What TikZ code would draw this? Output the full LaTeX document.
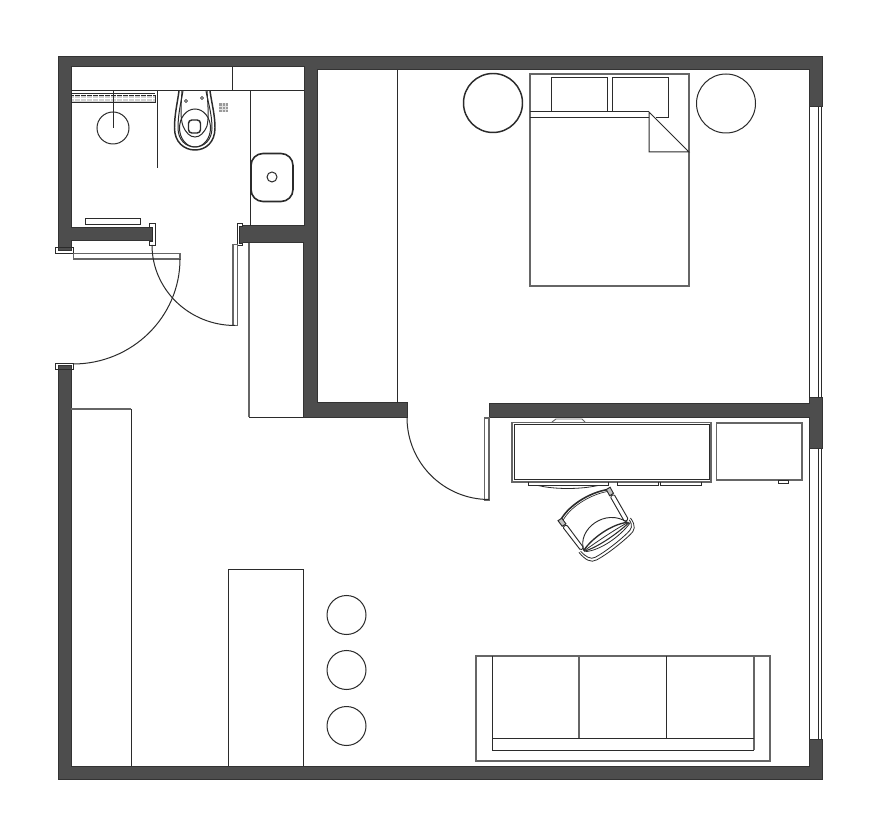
\documentclass[tikz,border=0pt]{standalone}
\tikzset{
  wall/.style={fill=wallgrey,draw=walledge,line width=0.75pt,line join=miter},
  ln/.style={draw=linedark,line width=0.75pt},
  gln/.style={draw=linegrey,line width=0.9pt},
  thk/.style={draw=linedark,line width=1.1pt},
  fr/.style={draw=linedark,line width=0.6pt,fill=white},
}
\definecolor{wallgrey}{HTML}{4D4D4D}
\definecolor{walledge}{HTML}{333333}
\definecolor{linedark}{HTML}{2B2B2B}
\definecolor{linegrey}{HTML}{666666}
\definecolor{hatchgrey}{HTML}{9A9A9A}
\begin{document}
\begin{tikzpicture}[x=0.75pt,y=-0.75pt]
\useasboundingbox (0,0) rectangle (885,837);
\fill[white] (0,0) rectangle (885,837);
% walls
\path[wall] (58,250.5)--(58,57)--(822,57)--(822,107)--(809,107)--(809,70)--(317,70)--(317,403)--(407,403)--(407,417.5)--(303,417.5)--(303,243)--(239,243)--(239,226)--(304,226)--(304,67)--(71,67)--(71,228)--(152,228)--(152,241)--(71,241)--(71,250.5)--cycle;
\path[wall] (489,403.5)--(809,403.5)--(809,398)--(822,398)--(822,449)--(809,449)--(809,418)--(489,418)--cycle;
\path[wall] (58,366)--(71,366)--(71,766)--(809,766)--(809,739)--(822,739)--(822,779)--(58,779)--cycle;
% windows
\draw[ln] (809,107)--(809,398) (818,107)--(818,398) (821.5,107)--(821.5,398);
\draw[ln] (809,449)--(809,739) (818,449)--(818,739) (821.5,449)--(821.5,739);
% door frames
\draw[ln,line width=0.6pt] (55.5,253.5)--(55.5,247.5)--(73.5,247.5)--(73.5,253.5)--cycle;
\draw[ln,line width=0.6pt] (55.5,369)--(55.5,363.5)--(73.5,363.5)--(73.5,369)--cycle;
\draw[fr] (149.5,223.5)--(155,223.5)--(155,245)--(149.5,245)--(149.5,241.5)--(152,241.5)--(152,227)--(149.5,227)--cycle;
\draw[fr] (242.5,223.5)--(237.5,223.5)--(237.5,245)--(242.5,245)--(242.5,243)--(239.5,243)--(239.5,226)--(242.5,226)--cycle;
% entrance door
\draw[gln] (73.5,253.5)--(180,253.5)--(180,259)--(73.5,259)--cycle;
\draw[ln] (180,259) arc[start angle=0,end angle=90,x radius=107,y radius=105];
% bathroom door
\draw[gln] (233,244.5)--(237.5,244.5)--(237.5,325.5)--(233,325.5)--cycle;
\draw[ln] (152,245) arc[start angle=180,end angle=90,x radius=83,y radius=80.5];
% bathroom fixtures
\draw[ln] (71,91)--(304,91) (232,67)--(232,91) (250,91)--(250,226) (157,91)--(157,168);
\draw[ln] (71,94)--(155,94);
\draw[draw=linedark,line width=0.6pt,fill=hatchgrey!45] (71.5,95)rectangle(155,102);
\foreach \i in {0,...,13} \draw[white,line width=0.4pt] (74+\i*6,95.5)--(74+\i*6,101.5);
\draw[white,line width=0.4pt] (72,98.5)--(155,98.5);
\draw[ln] (113,91)--(113,128);
\draw[ln] (113,128) circle[radius=16];
\draw[ln] (85.5,218.5) rectangle (140,225);
% toilet
\draw[line width=1.1pt,draw=linedark] (179,91) .. controls (177,105) and (174.5,115) .. (174.5,128) .. controls (174.5,142) and (184,150) .. (195,150) .. controls (206,150) and (215,142) .. (215,128) .. controls (215,115) and (212,105) .. (210,91);
\draw[ln] (183,91) .. controls (181,102) and (178,114) .. (178,128) .. controls (178,140) and (186,147) .. (195,147) .. controls (204,147) and (212,140) .. (212,128) .. controls (212,114) and (208,102) .. (206,91);
\draw[ln] (195,128) ellipse[x radius=15.5,y radius=19];
\draw[ln] (182,91) .. controls (181,105) and (180,118) .. (183,126) .. controls (186,133) and (190,137) .. (195,137) .. controls (200,137) and (204,133) .. (207,126) .. controls (209,118) and (208,105) .. (207,91);
\draw[thk,rounded corners=2.5pt] (188.5,120) rectangle (200.5,133);
\draw[line width=0.5pt] (186,99.5)--(187.5,101)--(186,102.5)--(184.5,101)--cycle;
\draw[line width=0.5pt] (202,96.5)--(203.5,98)--(202,99.5)--(200.5,98)--cycle;
\fill[hatchgrey] (219,103) rectangle (228,112);
\foreach \i in {1,2} {\draw[white!70!hatchgrey,line width=0.4pt] (219+\i*3,103)--(219+\i*3,112); \draw[white!70!hatchgrey,line width=0.4pt] (219,103+\i*3)--(228,103+\i*3);}
% sink
\draw[draw=linedark,line width=1.2pt,rounded corners=9pt] (251,153.5) rectangle (293,201.5);
\draw[ln] (272,177) circle[radius=5];
% closet
\draw[gln] (249,243)--(249,417.5);
\draw[ln] (249,417.5)--(303,417.5);
% wardrobe
\draw[ln] (397,70)--(397,403);
% bedroom door
\draw[gln] (484.5,418)--(489,418)--(489,500)--(484.5,500)--cycle;
\draw[ln] (407,417.5) arc[start angle=180,end angle=90,x radius=82,y radius=82];
% bed
\draw[gln] (530,74) rectangle (689,286);
\draw[ln] (551,112)--(551,77.5)--(607,77.5)--(607,112);
\draw[ln] (612,112)--(612,77.5)--(668,77.5)--(668,117.5)--(656,117.5);
\draw[ln] (530,112)--(649,112) (530,118)--(649,118);
\draw[ln] (649,112)--(689,152)--(649,152)--cycle;
\draw[thk] (493,103) circle[radius=29.5];
\draw[ln] (726,103.5) circle[radius=29.5];
% desk
\draw[gln,line width=1.1pt] (512,422.5) rectangle (711,482);
\draw[ln] (514.5,424.5) rectangle (709,480);
\draw[gln] (716.5,423) rectangle (802,480);
\draw[ln,line width=0.6pt] (778,480.5) rectangle (788,483.5);
\draw[ln,line width=0.6pt] (528,482)--(528,485.5)--(608,485.5)--(608,482);
\draw[ln,line width=0.6pt] (617,482)--(617,485.5)--(658,485.5)--(658,482);
\draw[ln,line width=0.6pt] (660,482)--(660,485.5)--(701,485.5)--(701,482);
\draw[ln,line width=0.6pt] (538,485.5) .. controls (555,489.5) and (580,489.5) .. (598,485.5);
\draw[gln,line width=0.7pt] (552,422)--(556,419)--(582,419)--(585,422);
% chair
\begin{scope}[shift={(585,504.5)},x={(0.63pt,0.405pt)},y={(0.405pt,-0.63pt)}]
\draw[thk,line width=1.2pt] (-29,0) .. controls (-15,-8) and (10,-8) .. (28,0);
\draw[ln,line width=0.5pt] (-28,2) .. controls (-15,-6) and (10,-6) .. (28,2);
\draw[ln,line width=0.7pt,fill=linegrey!40] (-31.5,-1)--(-27,-1)--(-26.5,6)--(-31,6)--cycle;
\draw[ln,line width=0.7pt,fill=linegrey!40] (26,-1)--(30.5,-1)--(30,6)--(25.5,6)--cycle;
\draw[ln,line width=0.7pt,rounded corners=1pt] (-31,7)--(-26.5,7)--(-24.5,36)--(-28.5,36)--cycle;
\draw[ln,line width=0.7pt,rounded corners=1pt] (25.5,7)--(30,7)--(28.5,36)--(24,36)--cycle;
\draw[ln,line width=0.7pt] (-26,38) .. controls (-20,16) and (16,14) .. (26,38);
\draw[thk,line width=1pt] (-26,38) .. controls (-12,32) and (12,31) .. (26,38);
\draw[ln,line width=0.6pt] (-26,38.5) .. controls (-12,38) and (12,37) .. (27,38.5);
\draw[ln,line width=0.8pt] (-26,39) .. controls (-12,43) and (12,42) .. (27.5,39);
\draw[ln,line width=0.6pt] (-25,40) .. controls (-12,47) and (12,46) .. (28,40);
\draw[ln,line width=0.6pt] (-29,37) .. controls (-28,44) and (-25,50) .. (-20,50) .. controls (-8,51) and (10,49) .. (20,47) .. controls (26,46) and (29,44) .. (29,37);
\draw[ln,line width=0.6pt] (-31,37) .. controls (-30,46) and (-27,53) .. (-20,53) .. controls (-8,54) and (10,52) .. (21,50) .. controls (28,49) and (31.5,46) .. (31,36);
\end{scope}
% kitchen
\draw[gln] (71,409)--(131,409);
\draw[ln] (131,409)--(131,766);
\draw[ln] (228,766)--(228,569.5)--(303,569.5)--(303,766);
\draw[ln] (346.5,615) circle[radius=19.5];
\draw[ln] (346.5,670) circle[radius=19.5];
\draw[ln] (346.5,726) circle[radius=19.5];
% sofa
\draw[gln,line width=1.1pt] (476,656) rectangle (770,761);
\draw[ln] (492,656)--(492,750)--(754,750);
\draw[gln,line width=1.1pt] (754,656)--(754,750);
\draw[ln] (492,738)--(754,738) (666,656)--(666,738);
\draw[gln] (579,656)--(579,738);
\end{tikzpicture}
\end{document}
